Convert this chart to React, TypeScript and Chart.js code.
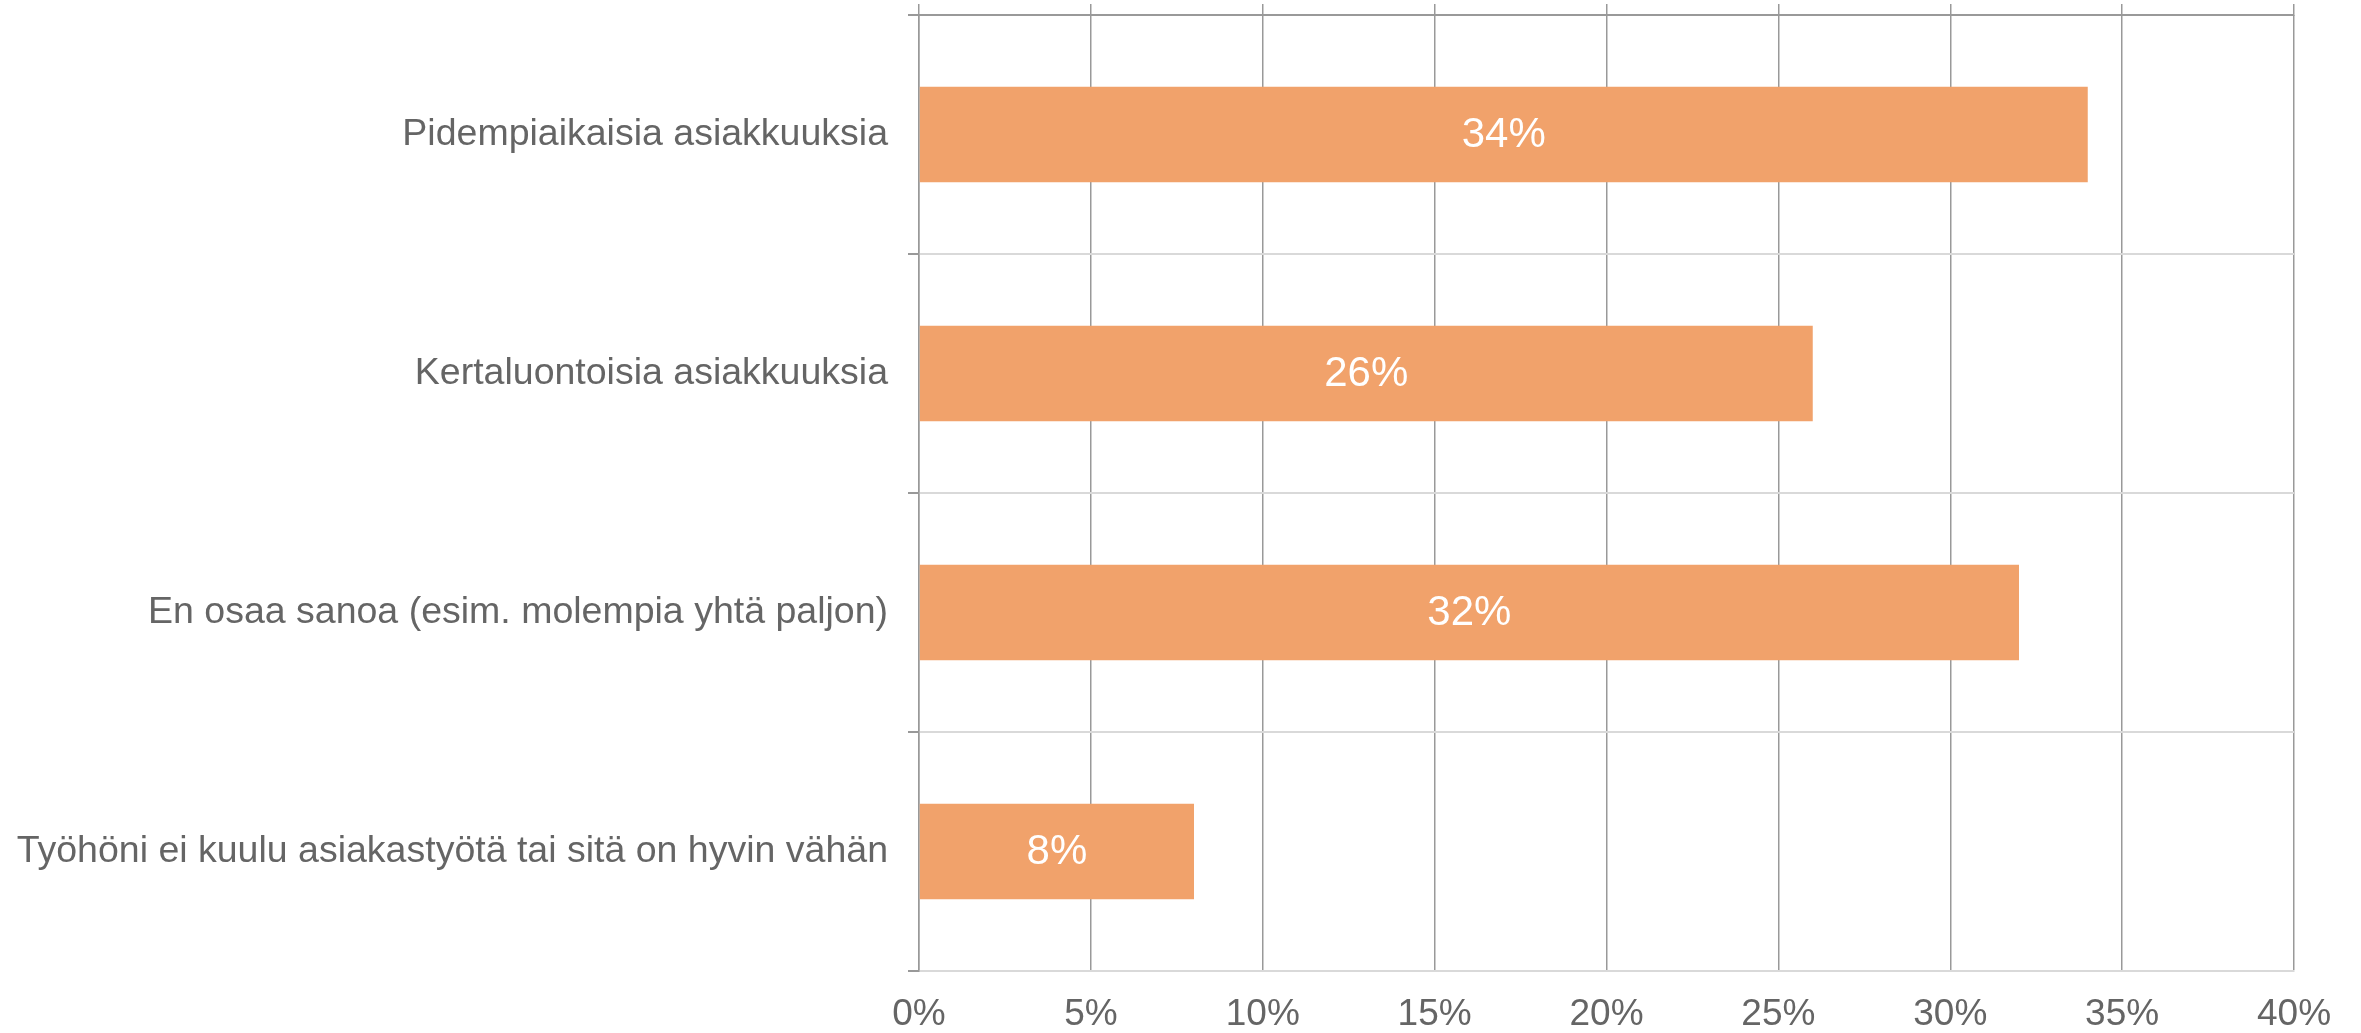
import React, { useEffect, useRef } from "react";
import { Chart, registerables } from "chart.js";

Chart.register(...registerables);

const categories = [
  "Pidempiaikaisia asiakkuuksia",
  "Kertaluontoisia asiakkuuksia",
  "En osaa sanoa (esim. molempia yhtä paljon)",
  "Työhöni ei kuulu asiakastyötä tai sitä on hyvin vähän",
];
const values = [34, 26, 32, 8];
const axisMin = 0;
const axisMax = 40;
const axisStep = 5;

const FONT = "'Liberation Sans', Arial, sans-serif";
const BAR_COLOR = "#F1A26B";
const TEXT_COLOR = "#656565";
const GRID_DARK = "#999999";
const GRID_LIGHT = "#d9d9d9";

const dataLabelPlugin = {
  id: "dataLabels",
  afterDatasetsDraw(chart: any) {
    const ctx = chart.ctx;
    const meta = chart.getDatasetMeta(0);
    const data = chart.data.datasets[0].data;
    ctx.save();
    ctx.fillStyle = "#ffffff";
    ctx.font = `42px ${FONT}`;
    ctx.textAlign = "center";
    ctx.textBaseline = "middle";
    meta.data.forEach((el: any, i: number) => {
      const cx = (el.x + el.base) / 2;
      ctx.fillText(`${data[i]}%`, cx, el.y + 1);
    });
    ctx.restore();
  },
};

export default function App() {
  const canvasRef = useRef<HTMLCanvasElement | null>(null);

  useEffect(() => {
    if (!canvasRef.current) return;
    Chart.defaults.font.family = FONT;
    const chart = new Chart(canvasRef.current, {
      type: "bar",
      data: {
        labels: categories,
        datasets: [
          {
            data: values,
            backgroundColor: BAR_COLOR,
            borderWidth: 0,
            categoryPercentage: 1,
            barPercentage: 0.4,
          },
        ],
      },
      options: {
        indexAxis: "y",
        animation: false,
        responsive: true,
        maintainAspectRatio: false,
        layout: { padding: { top: 4, right: 67, bottom: 0, left: 0 } },
        plugins: {
          legend: { display: false },
          tooltip: { enabled: false },
        },
        scales: {
          x: {
            type: "linear",
            position: "bottom",
            min: axisMin,
            max: axisMax,
            ticks: {
              stepSize: axisStep,
              color: TEXT_COLOR,
              font: { size: 37, family: FONT },
              padding: 22,
              callback: (v: any) => `${v}%`,
            },
            grid: {
              color: GRID_DARK,
              lineWidth: 1.5,
              drawTicks: false,
            },
            border: { display: true, color: GRID_LIGHT, width: 2 },
            afterFit: (scale: any) => {
              scale.height = 62;
              scale.paddingLeft = 0;
              scale.paddingRight = 0;
            },
          },
          x2: {
            type: "linear",
            position: "top",
            min: axisMin,
            max: axisMax,
            display: true,
            ticks: { stepSize: axisStep, display: false },
            grid: {
              drawOnChartArea: false,
              drawTicks: true,
              tickLength: 11,
              color: GRID_DARK,
              lineWidth: 1.5,
            },
            border: { display: true, color: GRID_DARK, width: 2 },
            afterFit: (scale: any) => {
              scale.height = 11;
              scale.paddingLeft = 0;
              scale.paddingRight = 0;
            },
          },
          y: {
            type: "category",
            position: "left",
            ticks: {
              color: TEXT_COLOR,
              font: { size: 37.5, family: FONT },
              padding: 20,
            },
            grid: {
              offset: true,
              drawTicks: true,
              tickLength: 11,
              color: (ctx: any) => (ctx.index === 0 ? GRID_DARK : GRID_LIGHT),
              tickColor: GRID_DARK,
              lineWidth: 2,
            },
            border: { display: true, color: GRID_DARK, width: 1.5 },
            afterFit: (scale: any) => {
              scale.width = 919;
              scale.paddingTop = 0;
              scale.paddingBottom = 0;
            },
          },
        },
      },
      plugins: [dataLabelPlugin],
    } as any);
    return () => chart.destroy();
  }, []);

  return (
    <div
      style={{
        position: "fixed",
        left: 0,
        top: 0,
        width: "100vw",
        height: "100vh",
        background: "#ffffff",
      }}
    >
      <canvas ref={canvasRef} />
    </div>
  );
}
